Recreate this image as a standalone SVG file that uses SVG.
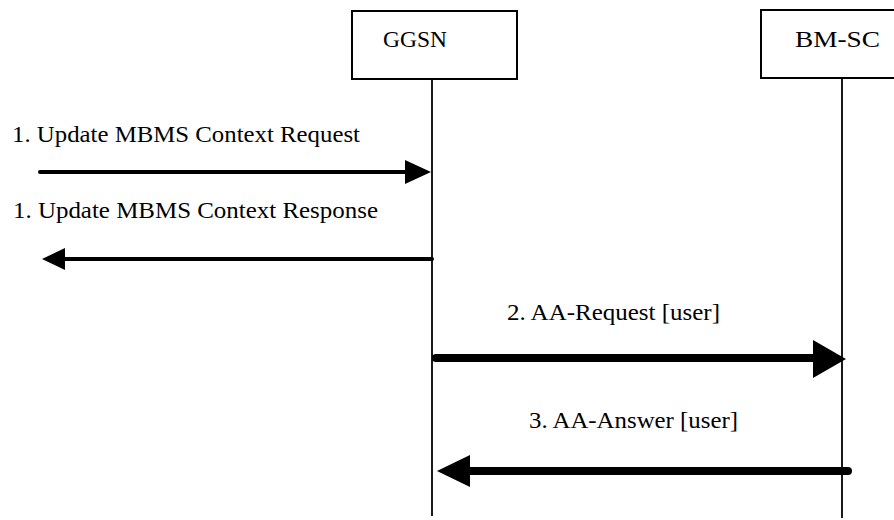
<svg xmlns="http://www.w3.org/2000/svg" width="894" height="520" viewBox="0 0 894 520">
<style>
.box{fill:#fff;stroke:#000;stroke-width:2}
.life{stroke:#000;stroke-width:1.8;fill:none}
.t{font-family:"Liberation Serif","Times New Roman",serif;font-size:23px;fill:#000}
.thin{stroke:#000;stroke-width:4;fill:none;stroke-linecap:round}
.thick{stroke:#000;stroke-width:8;fill:none;stroke-linecap:round}
</style>
<rect width="894" height="520" fill="#fff"/>
<g id="ggsn">
<rect class="box" x="352" y="11" width="165" height="68"/>
<text class="t" x="383" y="47" textLength="64" lengthAdjust="spacingAndGlyphs">GGSN</text>
<line class="life" x1="432" y1="79" x2="432" y2="516"/>
</g>
<g id="bmsc">
<rect class="box" x="761" y="10" width="140" height="68"/>
<text class="t" x="795" y="47" textLength="85" lengthAdjust="spacingAndGlyphs">BM-SC</text>
<line class="life" x1="842" y1="78" x2="842" y2="518"/>
</g>
<g id="connectors">
<line class="thin" x1="40" y1="172" x2="408" y2="172"/>
<polygon points="405,160 431,172 405,184" fill="#000"/>
<line class="thin" x1="432" y1="259" x2="62" y2="259"/>
<polygon points="65,248 42,259 65,270" fill="#000"/>
<line class="thick" x1="436" y1="358" x2="816" y2="358"/>
<polygon points="813,340 846,359 813,378" fill="#000"/>
<line class="thick" x1="848" y1="471" x2="468" y2="471"/>
<polygon points="470,455 437,471 470,487" fill="#000"/>
</g>
<g id="labels">
<text class="t" x="12" y="142" textLength="348" lengthAdjust="spacingAndGlyphs">1. Update MBMS Context Request</text>
<text class="t" x="13" y="218" textLength="365" lengthAdjust="spacingAndGlyphs">1. Update MBMS Context Response</text>
<text class="t" x="507" y="320" textLength="213" lengthAdjust="spacingAndGlyphs">2. AA-Request [user]</text>
<text class="t" x="529" y="428" textLength="209" lengthAdjust="spacingAndGlyphs">3. AA-Answer [user]</text>
</g>
</svg>
